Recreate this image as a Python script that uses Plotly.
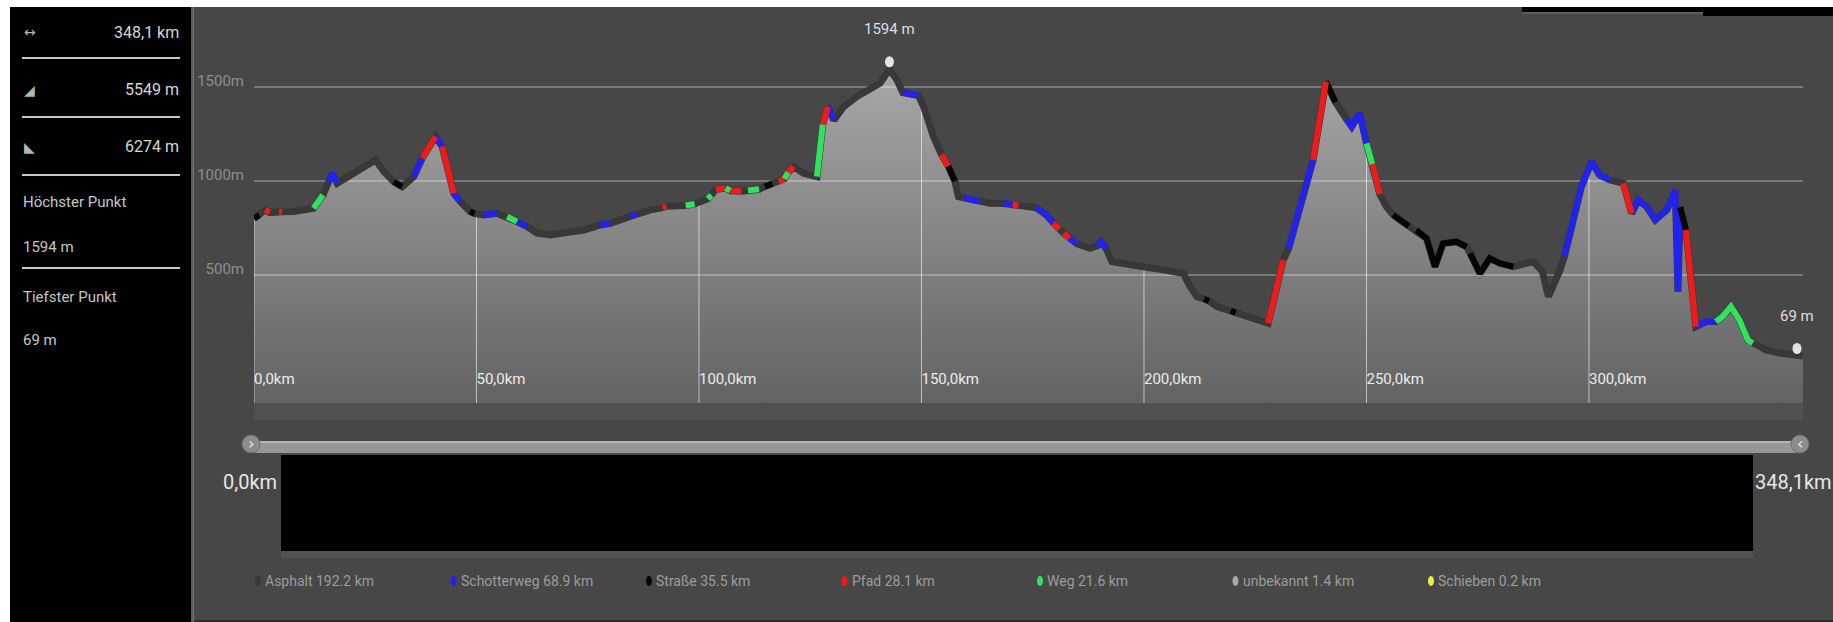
import numpy as np
import plotly.graph_objects as go

# ---------------- data ----------------
KM = [0.0, 1.2, 2.5, 3.5, 5.6, 6.3, 8.9, 11.5, 13.4, 15.5, 16.8, 17.6, 18.7, 21.7, 24.7, 27.3, 29.2,
      31.4, 33.3, 35.9, 37.8, 39.6, 40.8, 42.3, 43.8, 44.9, 46.4, 48.5, 49.6, 51.6, 54.6, 56.9, 59.1,
      61.4, 63.6, 66.6, 70.3, 74.1, 77.8, 80.1, 84.5, 86.0, 89.1, 91.8, 92.7, 97.0, 99.0, 102.0, 102.8,
      103.8, 106.0, 107.0, 109.5, 111.0, 113.5, 114.8, 116.5, 118.0, 119.2, 120.0, 121.3, 123.5, 126.5,
      127.8, 129.0, 130.3, 132.5, 135.5, 138.5, 140.7, 142.8, 144.5, 145.8, 147.5, 149.3, 150.5, 152.7,
      154.5, 156.0, 157.5, 158.3, 159.5, 163.0, 165.4, 168.5, 170.5, 171.8, 174.4, 175.8, 178.0, 179.6,
      181.0, 182.0, 183.2, 185.0, 187.9, 189.5, 190.3, 191.5, 192.8, 196.1, 199.9, 204.4, 208.8, 210.4,
      211.9, 213.5, 214.6, 216.4, 219.5, 220.6, 223.8, 227.9, 231.3, 232.5, 238.0, 240.9, 243.0, 244.4,
      245.5, 246.7, 248.5, 250.0, 251.3, 253.0, 254.5, 256.0, 257.5, 259.5, 261.2, 263.5, 265.4, 267.2,
      270.2, 272.5, 273.3, 275.5, 277.7, 280.0, 283.0, 287.5, 289.5, 290.9, 293.5, 294.5, 298.3, 300.6,
      302.4, 304.7, 307.7, 309.6, 311.1, 313.0, 314.9, 317.5, 319.4, 320.0, 320.5, 321.8, 324.0, 326.3,
      328.5, 330.0, 331.9, 333.8, 335.7, 336.8, 339.8, 342.8, 346.5, 348.1]
ELEV = [801, 818, 846, 832, 838, 836, 838, 845, 855, 925, 995, 1041, 988, 1032, 1076, 1112, 1050,
        996, 970, 1023, 1121, 1183, 1236, 1183, 1041, 934, 890, 838, 826, 819, 828, 810, 784,
        757, 722, 713, 722, 739, 766, 775, 812, 826, 846, 858, 865, 870, 878, 905, 925,
        955, 962, 948, 945, 950, 956, 970, 985, 995, 1012, 1045, 1076, 1041, 1023,
        1300, 1395, 1324, 1395, 1449, 1493, 1520, 1594, 1537, 1470, 1462, 1455, 1395, 1236,
        1140, 1080, 1000, 917, 910, 892, 881, 880, 875, 870, 863, 858, 820, 775,
        745, 722, 695, 665, 642, 655, 677, 640, 571, 562, 544, 527, 509, 438,
        385, 372, 362, 332, 310, 300, 270, 243, 580, 640, 1112, 1528, 1420, 1360,
        1330, 1289, 1360, 1200, 1090, 930, 863, 820, 793, 760, 739, 695, 544, 668,
        677, 650, 615, 509, 589, 562, 544, 571, 520, 385, 527, 600, 970, 1103,
        1032, 1005, 988, 828, 899, 863, 793, 846, 952, 411, 860, 739, 225, 252,
        252, 278, 332, 261, 154, 137, 101, 85, 75, 69]
# surface of the segment that starts at each point
SURF = ["T", "A", "P", "A", "P", "A", "A", "A", "W", "A", "S", "S", "A", "A", "A", "A", "A",
        "T", "A", "S", "P", "P", "S", "P", "P", "S", "A", "T", "A", "S", "A", "W", "S",
        "A", "A", "A", "A", "A", "S", "A", "S", "A", "A", "P", "A", "W", "A", "W", "A",
        "P", "W", "P", "A", "W", "A", "T", "A", "P", "W", "P", "A", "A", "W",
        "P", "S", "A", "A", "A", "A", "A", "A", "A", "S", "S", "A", "A", "A",
        "P", "T", "A", "A", "S", "A", "A", "S", "P", "A", "A", "S", "S", "P",
        "A", "P", "S", "A", "A", "S", "S", "A", "A", "A", "A", "A", "A", "A",
        "A", "T", "A", "A", "T", "A", "A", "P", "A", "S", "P", "T", "A", "A",
        "S", "S", "S", "W", "P", "A", "A", "T", "T", "A", "T", "T", "T", "T",
        "T", "A", "T", "T", "T", "T", "A", "A", "A", "A", "A", "S", "S", "S",
        "S", "A", "P", "S", "S", "S", "S", "S", "S", "S", "T", "P", "S", "S",
        "W", "W", "W", "W", "W", "A", "A", "A", "A", "A"]

SURFACE_CODES = ["A", "S", "T", "P", "W", "U", "X"]
SURFACE_NAMES = ["Asphalt", "Schotterweg", "Straße", "Pfad", "Weg", "unbekannt", "Schieben"]
SURFACE_KM = ["192.2", "68.9", "35.5", "28.1", "21.6", "1.4", "0.2"]

TOTAL_KM = 348.1
ASCENT_M = 5549
DESCENT_M = 6274

X_TICKS = [0, 50, 100, 150, 200, 250, 300]
X_TICK_TEXT = ["0,0km", "50,0km", "100,0km", "150,0km", "200,0km", "250,0km", "300,0km"]
Y_TICKS = [500, 1000, 1500]
Y_TICK_TEXT = ["500m", "1000m", "1500m"]

# ---------------- style ----------------
SURFACE_COLORS = {"A": "#383838", "S": "#2222ee", "T": "#050505", "P": "#ee1b1b",
                  "W": "#2fe35c", "U": "#a9a9a9", "X": "#eded45"}
FONT = "Roboto, Liberation Sans, sans-serif"
BG = "#474747"
W, H = 1833, 622
L, RE, T, BE = 254, 1803, 7, 403
Y_MIN, Y_MAX = -181, 1925.5


def px(x):
    return (x - L) / (RE - L)


def py(y):
    return (BE - y) / (BE - T)


fig = go.Figure()

# baseline for the filled area
fig.add_trace(go.Scatter(x=[0, TOTAL_KM], y=[Y_MIN, Y_MIN], mode="lines",
                         line=dict(width=0), hoverinfo="skip", showlegend=False))
# elevation fill
fig.add_trace(go.Scatter(x=KM, y=ELEV, mode="lines", fill="tonexty",
                         fillgradient=dict(type="vertical", start=Y_MIN, stop=Y_MAX,
                                           colorscale=[[0, "#636363"], [1, "#b4b4b4"]]),
                         line=dict(width=0), hoverinfo="skip", showlegend=False))
# vertical grid lines below the profile
for t in X_TICKS:
    fig.add_trace(go.Scatter(x=[t, t], y=[Y_MIN, float(np.interp(t, KM, ELEV))], mode="lines",
                             line=dict(color="rgba(255,255,255,0.6)", width=1),
                             hoverinfo="skip", showlegend=False))
# horizontal grid lines
for v in Y_TICKS:
    fig.add_trace(go.Scatter(x=[0, TOTAL_KM], y=[v, v], mode="lines",
                             line=dict(color="rgba(255,255,255,0.27)", width=2),
                             hoverinfo="skip", showlegend=False))

# base profile line (asphalt colour) and coloured surface segments
fig.add_trace(go.Scatter(x=KM, y=ELEV, mode="lines", name="Asphalt",
                         line=dict(color=SURFACE_COLORS["A"], width=7),
                         hoverinfo="skip", showlegend=False))
for code in SURFACE_CODES[1:]:
    xs, ys = [], []
    prev = False
    for i in range(len(KM) - 1):
        if SURF[i] == code:
            if not prev:
                xs += [KM[i]]
                ys += [ELEV[i]]
            xs += [KM[i + 1]]
            ys += [ELEV[i + 1]]
            prev = True
        else:
            if prev:
                xs.append(None)
                ys.append(None)
            prev = False
    if xs:
        fig.add_trace(go.Scatter(x=xs, y=ys, mode="lines", name=code,
                                 line=dict(color=SURFACE_COLORS[code], width=6),
                                 hoverinfo="skip", showlegend=False))

shapes = []
annotations = []

# page background panels
shapes.append(dict(type="rect", xref="paper", yref="paper", x0=px(10), x1=px(191), y0=py(622), y1=py(7),
                   fillcolor="#000000", line=dict(width=0), layer="below"))
shapes.append(dict(type="rect", xref="paper", yref="paper", x0=px(191), x1=px(193.5), y0=py(622), y1=py(7),
                   fillcolor="#5a5a5a", line=dict(width=0), layer="below"))
shapes.append(dict(type="rect", xref="paper", yref="paper", x0=px(193.5), x1=px(W), y0=py(620), y1=py(7),
                   fillcolor=BG, line=dict(width=0), layer="below"))
shapes.append(dict(type="rect", xref="paper", yref="paper", x0=px(193.5), x1=px(W), y0=py(622), y1=py(620),
                   fillcolor="#2c2c2c", line=dict(width=0), layer="below"))
# top right bars
shapes.append(dict(type="rect", xref="paper", yref="paper", x0=px(1522), x1=px(1703), y0=py(12), y1=py(7),
                   fillcolor="#000000", line=dict(width=0), layer="above"))
shapes.append(dict(type="rect", xref="paper", yref="paper", x0=px(1522), x1=px(1703), y0=py(14), y1=py(12),
                   fillcolor="#5e5e5e", line=dict(width=0), layer="above"))
shapes.append(dict(type="rect", xref="paper", yref="paper", x0=px(1703), x1=px(W), y0=py(16), y1=py(7),
                   fillcolor="#000000", line=dict(width=0), layer="above"))
# band under plot
shapes.append(dict(type="rect", xref="paper", yref="paper", x0=px(L), x1=px(RE), y0=py(420), y1=py(BE),
                   fillcolor="#505050", line=dict(width=0), layer="below"))

# left stats panel
for ysep in [58, 117, 175, 268]:
    shapes.append(dict(type="line", xref="paper", yref="paper", x0=px(22), x1=px(180), y0=py(ysep), y1=py(ysep),
                       line=dict(color="#c9c9c9", width=2), layer="above"))

stat_rows = [("↔", f"{TOTAL_KM:.1f}".replace(".", ",") + " km", 32),
             ("◢", f"{ASCENT_M} m", 90),
             ("◣", f"{DESCENT_M} m", 147)]
for icon, val, yy in stat_rows:
    annotations.append(dict(xref="paper", yref="paper", x=px(22), y=py(yy), xanchor="left", yanchor="middle",
                            text=icon, showarrow=False, font=dict(family="DejaVu Sans", size=14, color="#b5b5b5")))
    annotations.append(dict(xref="paper", yref="paper", x=px(181), y=py(yy), xanchor="right", yanchor="middle",
                            text=val, showarrow=False, font=dict(family=FONT, size=16, color="#d6d6d6")))

imax = int(np.argmax(ELEV))
imin = int(np.argmin(ELEV))
for txt, yy in [("Höchster Punkt", 202), (f"{ELEV[imax]} m", 247), ("Tiefster Punkt", 297), (f"{ELEV[imin]} m", 340)]:
    annotations.append(dict(xref="paper", yref="paper", x=px(21), y=py(yy), xanchor="left", yanchor="middle",
                            text=txt, showarrow=False, font=dict(family=FONT, size=15, color="#c6c6c6")))

# highest / lowest markers
for idx, dx in [(imax, 0), (imin, -6)]:
    shapes.append(dict(type="circle", xref="x", yref="y", xsizemode="pixel", ysizemode="pixel",
                       xanchor=KM[idx], yanchor=ELEV[idx], x0=dx - 4.5, x1=dx + 4.5, y0=2, y1=13,
                       fillcolor="#e4e4e4", line=dict(width=0), layer="above"))
    annotations.append(dict(xref="x", yref="y", x=KM[idx], y=ELEV[idx], xshift=dx, yshift=40,
                            xanchor="center", yanchor="middle", text=f"{ELEV[idx]} m", showarrow=False,
                            font=dict(family=FONT, size=15, color="#dedede")))

# range slider look
shapes.append(dict(type="rect", xref="paper", yref="paper", x0=px(255), x1=px(1800), y0=py(453), y1=py(441),
                   fillcolor="#979797", line=dict(width=0), layer="above"))
shapes.append(dict(type="rect", xref="paper", yref="paper", x0=px(255), x1=px(1800), y0=py(443), y1=py(441),
                   fillcolor="#b3b3b3", line=dict(width=0), layer="above"))
shapes.append(dict(type="rect", xref="paper", yref="paper", x0=px(281), x1=px(1753), y0=py(551), y1=py(455),
                   fillcolor="#000000", line=dict(width=0), layer="above"))
shapes.append(dict(type="rect", xref="paper", yref="paper", x0=px(281), x1=px(1753), y0=py(558), y1=py(551),
                   fillcolor="#525252", line=dict(width=0), layer="above"))
for cx, glyph in [(251, "›"), (1800, "‹")]:
    shapes.append(dict(type="circle", xref="paper", yref="paper", x0=px(cx - 9), x1=px(cx + 9),
                       y0=py(453), y1=py(435), fillcolor="#8c8c8c", line=dict(color="#6a6a6a", width=1),
                       layer="above"))
    annotations.append(dict(xref="paper", yref="paper", x=px(cx), y=py(443), xanchor="center", yanchor="middle",
                            text=glyph, showarrow=False, font=dict(family="DejaVu Sans", size=16, color="#e8e8e8")))
annotations.append(dict(xref="paper", yref="paper", x=px(279), y=py(482), xanchor="right", yanchor="middle",
                        text="0,0km", showarrow=False, font=dict(family=FONT, size=20, color="#e6e6e6")))
annotations.append(dict(xref="paper", yref="paper", x=px(1753), y=py(482), xanchor="left", yanchor="middle",
                        text=f"{TOTAL_KM:.1f}".replace(".", ",") + "km", showarrow=False,
                        font=dict(family=FONT, size=20, color="#e6e6e6")))

# legend
for k, (code, name, dist) in enumerate(zip(SURFACE_CODES, SURFACE_NAMES, SURFACE_KM)):
    dxp = 258 + k * 195.5
    shapes.append(dict(type="circle", xref="paper", yref="paper", x0=px(dxp - 3), x1=px(dxp + 3),
                       y0=py(586), y1=py(576), fillcolor=SURFACE_COLORS[code], line=dict(width=0), layer="above"))
    annotations.append(dict(xref="paper", yref="paper", x=px(dxp + 5), y=py(581), xanchor="left", yanchor="middle",
                            text=f"{name} {dist} km", showarrow=False,
                            font=dict(family=FONT, size=14, color="#9c9c9c")))

fig.update_layout(
    width=W, height=H,
    margin=dict(l=L, r=W - RE, t=T, b=H - BE, pad=0),
    paper_bgcolor="#ffffff", plot_bgcolor=BG,
    showlegend=False,
    shapes=shapes, annotations=annotations,
    xaxis=dict(range=[0, TOTAL_KM], tickvals=X_TICKS, ticktext=X_TICK_TEXT, showgrid=False,
               zeroline=False, showline=False, ticks="", ticklabelposition="inside right",
               ticklabelstandoff=10, tickfont=dict(family=FONT, size=15, color="#ececec")),
    yaxis=dict(range=[Y_MIN, Y_MAX], tickvals=Y_TICKS, ticktext=Y_TICK_TEXT, showgrid=False,
               zeroline=False, showline=False, ticks="", ticklabelstandoff=9, ticklabelshift=-6,
               tickfont=dict(family=FONT, size=15, color="#8e8e8e")),
)

fig.write_html("out.html", config={"displayModeBar": False},
               post_script="document.body.style.margin='0';document.body.style.padding='0';")
